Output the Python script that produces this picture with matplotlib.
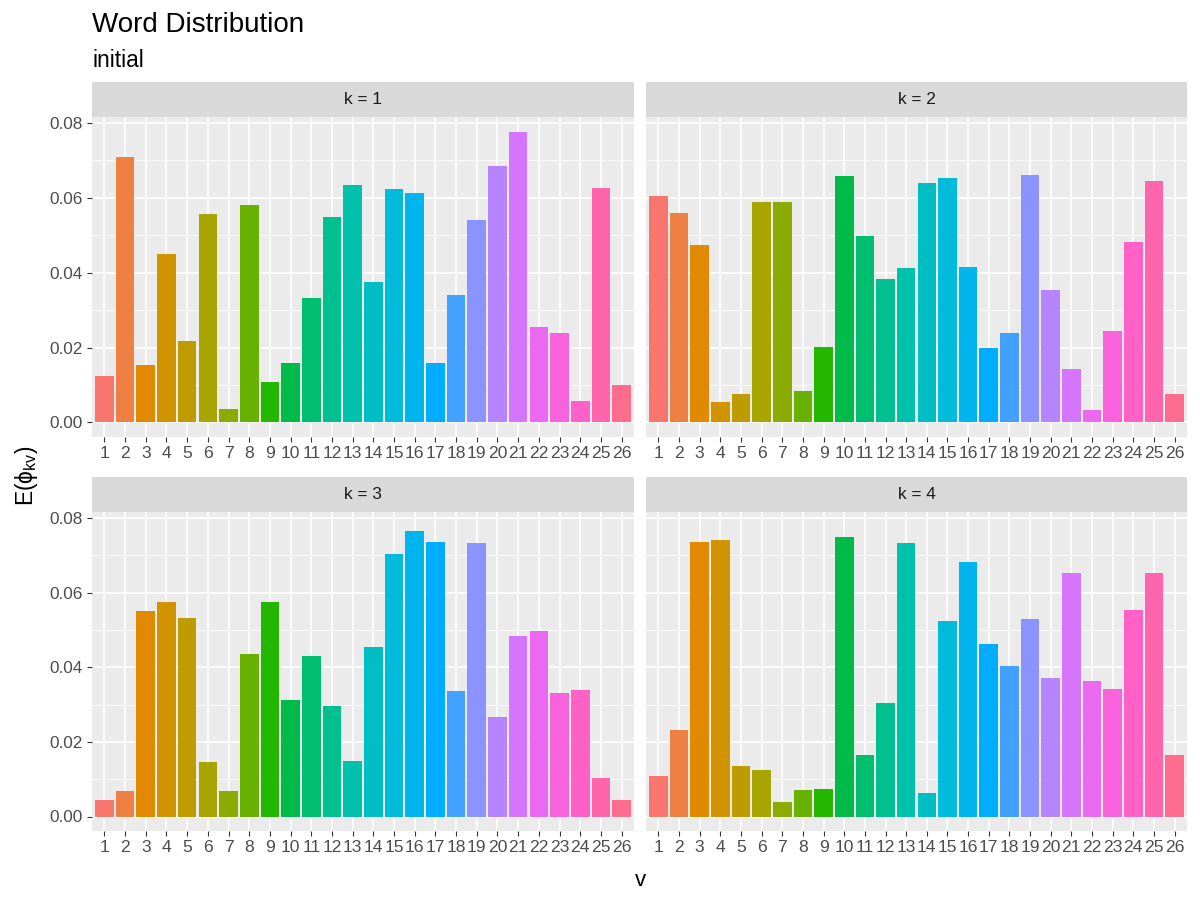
import numpy as np
import matplotlib
matplotlib.use("Agg")
import matplotlib.pyplot as plt

plt.rcParams['font.family'] = ['Liberation Sans', 'DejaVu Sans']
plt.rcParams['mathtext.fontset'] = 'custom'
plt.rcParams['mathtext.rm'] = 'Liberation Sans'
plt.rcParams['mathtext.it'] = 'Liberation Sans'

# ---------------------------------------------------------------- data
words = [str(i) for i in range(1, 27)]
panel_titles = ["k = 1", "k = 2", "k = 3", "k = 4"]

k1 = [0.0123, 0.0708, 0.0153, 0.0449, 0.0217, 0.0557, 0.0037, 0.0580, 0.0109, 0.0159,
      0.0333, 0.0548, 0.0635, 0.0375, 0.0624, 0.0613, 0.0159, 0.0341, 0.0540, 0.0685,
      0.0777, 0.0255, 0.0239, 0.0057, 0.0625, 0.0101]
k2 = [0.0606, 0.0560, 0.0475, 0.0054, 0.0075, 0.0590, 0.0588, 0.0083, 0.0201, 0.0659,
      0.0499, 0.0382, 0.0412, 0.0640, 0.0654, 0.0416, 0.0199, 0.0238, 0.0660, 0.0355,
      0.0144, 0.0032, 0.0243, 0.0483, 0.0646, 0.0076]
k3 = [0.0044, 0.0068, 0.0550, 0.0574, 0.0532, 0.0147, 0.0068, 0.0436, 0.0574, 0.0312,
      0.0430, 0.0296, 0.0150, 0.0454, 0.0702, 0.0764, 0.0736, 0.0336, 0.0733, 0.0266,
      0.0484, 0.0496, 0.0330, 0.0340, 0.0102, 0.0045]
k4 = [0.0108, 0.0232, 0.0736, 0.0740, 0.0136, 0.0124, 0.0040, 0.0070, 0.0073, 0.0748,
      0.0164, 0.0304, 0.0732, 0.0062, 0.0524, 0.0683, 0.0461, 0.0404, 0.0528, 0.0372,
      0.0652, 0.0364, 0.0342, 0.0553, 0.0652, 0.0164]
series = [k1, k2, k3, k4]

y_ticks = [0.00, 0.02, 0.04, 0.06, 0.08]
y_minor = [0.01, 0.03, 0.05, 0.07]


# ---------------------------------------------------------------- ggplot hue palette
def hcl_to_hex(h, c=100.0, l=65.0):
    Xn, Yn, Zn = 95.047, 100.0, 108.883
    hr = np.deg2rad(h)
    u, v = c * np.cos(hr), c * np.sin(hr)
    Y = Yn * ((l + 16) / 116) ** 3
    un = 4 * Xn / (Xn + 15 * Yn + 3 * Zn)
    vn = 9 * Yn / (Xn + 15 * Yn + 3 * Zn)
    up = u / (13 * l) + un
    vp = v / (13 * l) + vn
    X = 9.0 * Y * up / (4 * vp)
    Z = -X / 3 - 5 * Y + 3 * Y / vp
    M = np.array([[3.240479, -1.537150, -0.498535],
                  [-0.969256, 1.875992, 0.041556],
                  [0.055648, -0.204043, 1.057311]])
    rgb = M @ (np.array([X, Y, Z]) / 100.0)
    rgb = np.where(rgb > 0.00304, 1.055 * np.power(np.clip(rgb, 0, None), 1 / 2.4) - 0.055, 12.92 * rgb)
    rgb = np.clip(rgb, 0, 1)
    return matplotlib.colors.to_hex(rgb)


n = len(words)
hues = np.linspace(15, 375, n + 1)[:n]
colors = [hcl_to_hex(h) for h in hues]

# ---------------------------------------------------------------- figure
W, H = 1200, 900
fig = plt.figure(figsize=(12, 9), dpi=100)

ymax = max(max(s) for s in series)
ylim = (-0.05 * ymax, 1.05 * ymax)

# panel boxes in pixels: left, right, top(strip top), bottom
boxes = [(92, 634, 82, 437), (646, 1187, 82, 437),
         (92, 634, 477, 831), (646, 1187, 477, 831)]
strip_h = 35

x = np.arange(1, n + 1)
for i, (vals, title, (l, r, t, b)) in enumerate(zip(series, panel_titles, boxes)):
    ax = fig.add_axes([l / W, 1 - b / H, (r - l) / W, (b - t - strip_h) / H])
    ax.set_facecolor('#EBEBEB')
    ax.set_axisbelow(True)
    for yv in y_minor:
        ax.axhline(yv, color='white', lw=0.6, zorder=0)
    for yv in y_ticks:
        ax.axhline(yv, color='white', lw=1.2, zorder=0)
    for xv in x:
        ax.axvline(xv, color='white', lw=1.2, zorder=0)
    ax.bar(x, vals, width=0.9, color=colors, zorder=2)
    ax.set_xlim(0.4, n + 0.6)
    ax.set_ylim(*ylim)
    ax.set_xticks(x)
    ax.set_xticklabels(words)
    ax.set_yticks(y_ticks)
    if i % 2 == 0:
        ax.set_yticklabels([f"{v:.2f}" for v in y_ticks])
        ax.tick_params(axis='y', length=3.8, width=0.8, color='#333333',
                       labelcolor='#4D4D4D', labelsize=12.4, pad=3)
    else:
        ax.tick_params(axis='y', left=False, labelleft=False)
    ax.tick_params(axis='x', length=3.8, width=0.8, color='#333333',
                   labelcolor='#4D4D4D', labelsize=12.6, pad=3)
    for sp in ax.spines.values():
        sp.set_visible(False)

    sax = fig.add_axes([l / W, 1 - (t + strip_h) / H, (r - l) / W, strip_h / H])
    sax.set_facecolor('#D9D9D9')
    sax.set_xticks([])
    sax.set_yticks([])
    for sp in sax.spines.values():
        sp.set_visible(False)
    sax.text(0.5, 0.5, title, ha='center', va='center', fontsize=12.4,
             color='#1A1A1A', transform=sax.transAxes)

fig.text(92 / W, 1 - 32 / H, "Word Distribution", fontsize=20, ha='left',
         va='baseline', color='black')
fig.text(92 / W, 1 - 67 / H, "initial", fontsize=16.4, ha='left',
         va='baseline', color='black')
fig.text(640 / W, 1 - 880 / H, "v", fontsize=16, ha='center', va='center')
fig.text(26 / W, 1 - 476 / H, r"E($\phi_{kv}$)", fontsize=16.4, ha='center',
         va='center', rotation=90)

fig.savefig("out.png", dpi=100)
